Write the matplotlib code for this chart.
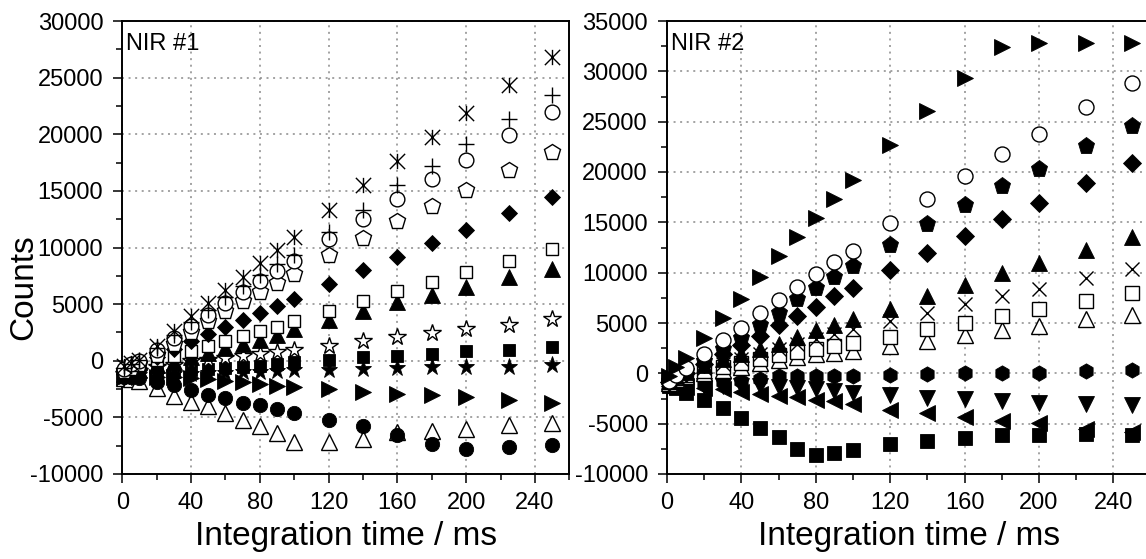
import matplotlib
matplotlib.use("Agg")
import matplotlib.pyplot as plt
from matplotlib.path import Path
from matplotlib.ticker import MultipleLocator

plt.rcParams['font.family'] = ['Liberation Sans', 'DejaVu Sans']
plt.rcParams['axes.unicode_minus'] = False

# ---------------- data ----------------
integration_ms = [1, 5, 10, 20, 30, 40, 50, 60, 70, 80, 90, 100, 120, 140, 160, 180, 200, 225, 250]

# NIR #1 detector
nir1_open_tri = [-1500, -1600, -1800, -2400, -3090, -3600, -4030, -4600, -5200, -5800, -6400, -7200, -7180, -6880, -6300, -6240, -6000, -5700, -5500]
nir1_circle_f = [-1400, -1450, -1500, -1850, -2120, -2560, -3000, -3300, -3740, -3950, -4300, -4620, -5270, -5800, -6530, -7330, -7800, -7620, -7410]
nir1_right_tri = [-1400, -1400, -1400, -1400, -1450, -1500, -1600, -1750, -1850, -2050, -2200, -2320, -2500, -2800, -2910, -3060, -3200, -3500, -3740]
nir1_star_f = [-1400, -1350, -1300, -1250, -1200, -1150, -1100, -1050, -1000, -950, -900, -790, -850, -710, -650, -560, -560, -560, -410]
nir1_square_f = [-1350, -1300, -1200, -1050, -950, -850, -750, -650, -550, -450, -300, -150, 90, 320, 440, 590, 820, 970, 1210]
nir1_star_o = [-1200, -1100, -900, -560, -350, -60, 90, 240, 380, 600, 800, 970, 1260, 1700, 2060, 2440, 2800, 3180, 3680]
nir1_tri_f = [-1200, -1000, -800, -400, -100, 300, 700, 1100, 1500, 1850, 2300, 2800, 3620, 4410, 5150, 5830, 6500, 7390, 8090]
nir1_square_o = [-1000, -800, -400, 90, 440, 820, 1270, 1710, 2150, 2600, 3000, 3470, 4350, 5240, 6120, 6940, 7800, 8770, 9860]
nir1_diamond = [-1200, -1000, -800, 300, 1000, 1700, 2400, 3000, 3600, 4200, 4850, 5450, 6770, 7970, 9200, 10390, 11560, 13030, 14450]
nir1_pentagon = [-900, -600, -300, 500, 1500, 2500, 3500, 4400, 5300, 6100, 6900, 7680, 9360, 10880, 12360, 13700, 15090, 16800, 18470]
nir1_circle_o = [-700, -300, 0, 970, 2000, 3030, 4060, 5090, 6100, 7000, 7900, 8770, 10740, 12500, 14270, 16060, 17740, 19950, 21950]
nir1_plus = [-600, -250, 100, 1100, 2300, 3400, 4500, 5600, 6600, 7600, 8500, 9360, 11410, 13330, 15530, 17240, 19150, 21360, 23480]
nir1_asterisk = [-500, -200, 100, 1320, 2590, 3910, 5090, 6270, 7400, 8600, 9800, 10920, 13270, 15530, 17680, 19800, 21860, 24360, 26860]

# NIR #2 detector
nir2_square_f = [-1260, -1500, -1920, -2650, -3480, -4400, -5400, -6330, -7490, -8140, -7880, -7620, -7050, -6720, -6390, -6160, -6160, -6060, -6160]
nir2_left_tri = [-1300, -1300, -1400, -1500, -1600, -1900, -2100, -2250, -2400, -2600, -2750, -3080, -3640, -3900, -4300, -4730, -4970, -5560, -5830]
nir2_down_tri = [-1300, -1300, -1300, -1300, -1300, -1300, -1300, -1400, -1500, -1600, -1750, -1920, -2180, -2420, -2580, -2750, -2910, -3080, -3180]
nir2_hexagon = [-1300, -1200, -1100, -1000, -900, -800, -600, -270, -300, -300, -270, -270, -170, -100, 0, 0, 0, 230, 330]
nir2_open_tri = [-1000, -600, -300, 0, 300, 600, 1000, 1300, 1600, 1890, 2050, 2210, 2710, 3210, 3770, 4270, 4700, 5360, 5760]
nir2_square_o = [-900, -500, -200, 200, 600, 1000, 1400, 1800, 2100, 2400, 2700, 3050, 3640, 4370, 5030, 5690, 6360, 7180, 7970]
nir2_cross = [-800, -400, 0, 500, 900, 1400, 1900, 2400, 2900, 3400, 3900, 4370, 5190, 6030, 6850, 7680, 8420, 9450, 10400]
nir2_tri_f = [-800, -300, 100, 800, 1400, 1900, 2450, 2950, 3640, 4270, 4770, 5360, 6420, 7680, 8770, 9930, 10950, 12250, 13570]
nir2_diamond = [-900, -400, 0, 900, 1900, 2800, 3700, 4770, 5690, 6620, 7680, 8500, 10260, 11920, 13630, 15290, 16950, 18940, 20900]
nir2_pentagon = [-800, -300, 200, 1200, 2400, 3540, 4770, 6030, 7350, 8500, 9600, 10660, 12740, 14800, 16680, 18600, 20330, 22570, 24600]
nir2_circle_o = [-760, -200, 500, 1890, 3280, 4530, 5960, 7280, 8600, 9830, 11060, 12200, 14900, 17280, 19600, 21750, 23800, 26450, 28870]
nir2_right_tri = [-300, 600, 1560, 3540, 5460, 7410, 9600, 11650, 13570, 15460, 17350, 19170, 22670, 26050, 29300, 32400, 32800, 32800, 32800]

x_ticks = [0, 40, 80, 120, 160, 200, 240]
nir1_yticks = [-10000, -5000, 0, 5000, 10000, 15000, 20000, 25000, 30000]
nir2_yticks = [-10000, -5000, 0, 5000, 10000, 15000, 20000, 25000, 30000, 35000]

# ---------------- styles ----------------
# asterisk: vertical stroke plus an X spanning the same box
asterisk = Path([(0, -1), (0, 1), (-1, -1), (1, 1), (-1, 1), (1, -1)],
                [Path.MOVETO, Path.LINETO, Path.MOVETO, Path.LINETO, Path.MOVETO, Path.LINETO])

OPEN, FILLED, LINE = 'open', 'filled', 'line'

nir1_series = [
    (nir1_open_tri, '^', OPEN, 11.0),
    (nir1_circle_f, 'o', FILLED, 10.3),
    (nir1_right_tri, '>', FILLED, 11.0),
    (nir1_star_f, '*', FILLED, 12.5),
    (nir1_square_f, 's', FILLED, 9.0),
    (nir1_star_o, '*', OPEN, 13.0),
    (nir1_tri_f, '^', FILLED, 11.0),
    (nir1_square_o, 's', OPEN, 9.0),
    (nir1_diamond, 'D', FILLED, 8.6),
    (nir1_pentagon, 'p', OPEN, 12.0),
    (nir1_circle_o, 'o', OPEN, 10.6),
    (nir1_plus, '+', LINE, 11.0),
    (nir1_asterisk, asterisk, LINE, 11.0),
]

nir2_series = [
    (nir2_square_f, 's', FILLED, 9.6),
    (nir2_left_tri, '<', FILLED, 11.5),
    (nir2_down_tri, 'v', FILLED, 11.5),
    (nir2_hexagon, 'h', FILLED, 11.0),
    (nir2_open_tri, '^', OPEN, 11.5),
    (nir2_square_o, 's', OPEN, 9.6),
    (nir2_cross, 'x', LINE, 10.0),
    (nir2_tri_f, '^', FILLED, 12.0),
    (nir2_diamond, 'D', FILLED, 9.2),
    (nir2_pentagon, 'p', FILLED, 12.5),
    (nir2_circle_o, 'o', OPEN, 10.8),
    (nir2_right_tri, '>', FILLED, 12.0),
]

# ---------------- figure ----------------
fig = plt.figure(figsize=(11.46, 5.59), dpi=100)
ax1 = fig.add_axes([122.3 / 1146, 1 - 474 / 559, 447.0 / 1146, 453 / 559])
ax2 = fig.add_axes([667.0 / 1146, 1 - 474 / 559, 483.6 / 1146, 453 / 559])


def draw_panel(ax, series, yticks, ylim, title):
    for values, marker, kind, size in series:
        if kind == OPEN:
            kw = dict(mfc='white', mec='black', mew=1.0)
        elif kind == FILLED:
            kw = dict(mfc='black', mec='black', mew=0.6)
        else:
            kw = dict(color='black', mew=1.0)
        ax.plot(integration_ms, values, linestyle='none', marker=marker,
                ms=size, clip_on=False, zorder=3, **kw)

    ax.set_xlim(0, 260)
    ax.set_ylim(*ylim)
    ax.set_xticks(x_ticks)
    ax.set_yticks(yticks)
    ax.xaxis.set_minor_locator(MultipleLocator(20))
    ax.yaxis.set_minor_locator(MultipleLocator(2500))
    ax.tick_params(which='both', direction='out', top=False, right=False,
                   width=1.1, labelsize=17, color='black')
    ax.tick_params(which='major', length=6.7)
    ax.tick_params(which='minor', length=4.0)
    ax.tick_params(axis='x', which='major', pad=6.5)
    ax.tick_params(axis='y', which='major', pad=7.0)
    ax.grid(True, which='major', color='#8a8a8a', linewidth=1.1,
            linestyle=(0, (1.3, 3.0)))
    ax.set_axisbelow(True)
    for sp in ax.spines.values():
        sp.set_linewidth(1.4)
        sp.set_color('black')
    ax.set_xlabel('Integration time / ms', fontsize=24, labelpad=5)
    ax.text(0.009, 0.974, title, transform=ax.transAxes, ha='left', va='top',
            fontsize=17, zorder=4)


draw_panel(ax1, nir1_series, nir1_yticks, (-10000, 30000), 'NIR #1')
draw_panel(ax2, nir2_series, nir2_yticks, (-10000, 35000), 'NIR #2')

ax1.set_ylabel('Counts', fontsize=24)
ax1.yaxis.set_label_coords(-0.185, 0.413)

fig.savefig('out.png', dpi=100)
